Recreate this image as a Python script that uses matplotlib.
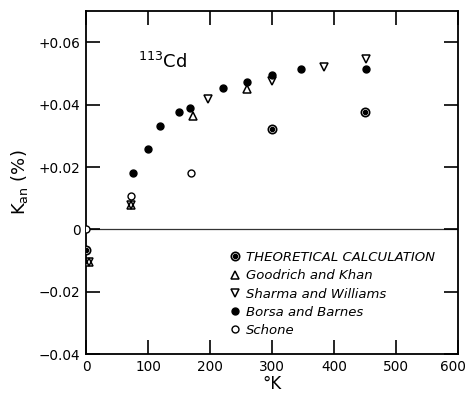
import matplotlib
matplotlib.use("Agg")
import matplotlib.pyplot as plt
import matplotlib.transforms as mtransforms
from matplotlib.legend_handler import HandlerTuple

# --- data (temperature in K, Kan in %)
theory_T = [0, 300, 450]
theory_K = [-0.0065, 0.0323, 0.0376]

goodrich_T = [5, 72, 173, 260]
goodrich_K = [-0.0105, 0.0077, 0.0365, 0.0451]

sharma_T = [5, 72, 197, 300, 383, 452]
sharma_K = [-0.0105, 0.0077, 0.0417, 0.0475, 0.0522, 0.0547]

borsa_T = [75, 100, 119, 149, 167, 220, 260, 300, 347, 452]
borsa_K = [0.0180, 0.0259, 0.0330, 0.0378, 0.0390, 0.0453, 0.0472, 0.0494, 0.0515, 0.0513]

schone_T = [0, 72, 169]
schone_K = [0.0, 0.0106, 0.0182]

xticks = [0, 100, 200, 300, 400, 500, 600]
yticks = [-0.04, -0.02, 0.0, 0.02, 0.04, 0.06]
ytick_labels = ["\u22120.04", "\u22120.02", "0", "+0.02", "+0.04", "+0.06"]

plt.rcParams["font.family"] = ["DejaVu Sans"]

fig = plt.figure(figsize=(4.68, 3.97), dpi=100)
ax = fig.add_axes([0.184, 0.108, 0.795, 0.864])

ax.axhline(0, color="#333333", lw=0.9, zorder=1)

ms = 5
# theoretical: ring with a dot inside
th_ring, = ax.plot(theory_T, theory_K, "o", ms=ms + 1, mfc="white", mec="black", mew=1.2, ls="none", zorder=4)
th_dot, = ax.plot(theory_T, theory_K, "o", ms=3, mfc="black", mec="black", ls="none", zorder=5)
gk, = ax.plot(goodrich_T, goodrich_K, "^", ms=ms + 1, mfc="white", mec="black", mew=1.1, ls="none", zorder=3)
sw, = ax.plot(sharma_T, sharma_K, "v", ms=ms + 1, mfc="none", mec="black", mew=1.1, ls="none", zorder=3)
bb, = ax.plot(borsa_T, borsa_K, "o", ms=ms, mfc="black", mec="black", ls="none", zorder=3)
sc, = ax.plot(schone_T, schone_K, "o", ms=ms, mfc="white", mec="black", mew=1.0, ls="none", zorder=3)

ax.set_xlim(0, 600)
ax.set_ylim(-0.04, 0.07)
ax.set_xticks(xticks)
ax.set_yticks(yticks)
ax.set_yticklabels(ytick_labels)
ax.tick_params(direction="in", length=10, width=1.2, top=True, right=True,
               labelsize=9.8, pad=4)
for s in ax.spines.values():
    s.set_linewidth(1.3)

# nudge the last x label left so it stays inside the figure
last = ax.get_xticklabels()[-1]
last.set_transform(last.get_transform() + mtransforms.ScaledTranslation(-4 / 72, 0, fig.dpi_scale_trans))

ax.set_xlabel("\u00b0K", fontsize=12, labelpad=1)
ax.set_ylabel(r"K$_{\mathregular{an}}$ (%)", fontsize=13, labelpad=6)

ax.text(0.14, 0.835, r"$^{\mathregular{113}}$Cd", transform=ax.transAxes, fontsize=13)

leg = ax.legend([(th_ring, th_dot), gk, sw, bb, sc],
                ["THEORETICAL CALCULATION", "Goodrich and Khan", "Sharma and Williams",
                 "Borsa and Barnes", "Schone"],
                handler_map={tuple: HandlerTuple(ndivide=1, pad=0)},
                loc="lower left", bbox_to_anchor=(0.355, 0.015), frameon=False,
                handlelength=0.8, handletextpad=0.4, labelspacing=0.4,
                prop={"style": "italic", "size": 9.5})

fig.savefig("out.png", dpi=100)
